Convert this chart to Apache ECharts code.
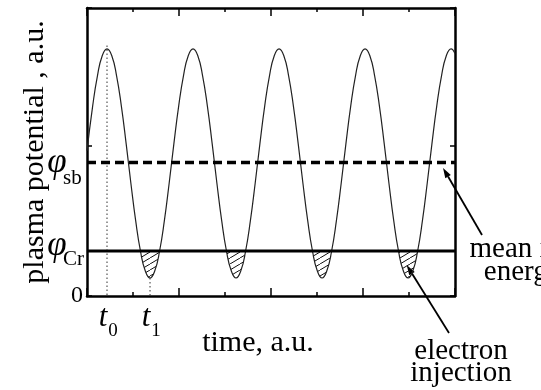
<!DOCTYPE html>
<html>
<head>
<meta charset="utf-8">
<script src="https://cdn.jsdelivr.net/npm/echarts@6/dist/echarts.min.js"></script>
<style>
  html, body { margin: 0; padding: 0; background: #fff; }
  #chart { width: 541px; height: 390px; }
</style>
</head>
<body>
<div id="chart"></div>
<script>
// Oscillating plasma potential over time (arbitrary units)
const times = [0, 0.123, 0.227, 0.331,
  0.435, 0.539, 0.643, 0.747, 0.851, 0.954, 1.058, 1.162, 1.266, 1.370, 1.474, 1.578, 1.682, 1.786, 1.889, 1.993, 2.097, 2.201,
  2.305, 2.409, 2.513, 2.617, 2.721, 2.824, 2.928, 3.032, 3.136, 3.240, 3.344, 3.448, 3.552, 3.656, 3.759, 3.863, 3.967, 4.071,
  4.175, 4.279, 4.383, 4.487, 4.591, 4.694, 4.798, 4.902, 5.006, 5.110, 5.214, 5.318, 5.422, 5.526, 5.629, 5.733, 5.837, 5.941,
  6.045, 6.149, 6.253, 6.357, 6.461, 6.564, 6.668, 6.772, 6.876, 6.980, 7.084, 7.188, 7.292, 7.396, 7.499, 7.603, 7.707, 7.811,
  7.915, 8.0];
const potential = [4.84, 6.33, 7.34, 8.01,
  8.24, 8.01, 7.34, 6.33, 5.08, 3.76, 2.51, 1.50, 0.84, 0.60, 0.84, 1.50, 2.51, 3.76, 5.08, 6.33, 7.34, 8.01,
  8.24, 8.01, 7.34, 6.33, 5.08, 3.76, 2.51, 1.50, 0.84, 0.60, 0.84, 1.50, 2.51, 3.76, 5.08, 6.33, 7.34, 8.01,
  8.24, 8.01, 7.34, 6.33, 5.08, 3.76, 2.51, 1.50, 0.84, 0.60, 0.84, 1.50, 2.51, 3.76, 5.08, 6.33, 7.34, 8.01,
  8.24, 8.01, 7.34, 6.33, 5.08, 3.76, 2.51, 1.50, 0.84, 0.60, 0.84, 1.50, 2.51, 3.76, 5.08, 6.33, 7.34, 8.01,
  8.24, 8.08];

// Reference levels
const phiSb = 4.45;   // mean ion energy level
const phiCr = 1.50;   // electron injection threshold

// Marked instants t0 (potential maximum) and t1 (potential minimum)
const markerTimes = [0.435, 1.370];
const markerTops = [8.35, 0.60];
const markerNames = ['0', '1'];

const xRange = [0, 8];
const yRange = [0, 9.6];

const FONT = '"Liberation Serif", "Times New Roman", serif';

// Diagonal hatch pattern for the injection regions
function hatchPattern() {
  const c = document.createElement('canvas');
  c.width = 10; c.height = 6;
  const g = c.getContext('2d');
  g.strokeStyle = '#111';
  g.lineWidth = 1;
  g.beginPath();
  g.moveTo(-1, 6.6);
  g.lineTo(11, -0.6);
  g.stroke();
  return c;
}

const curveData = times.map((t, i) => [t, potential[i]]);
const hatchData = times.map((t, i) => [t, potential[i] <= phiCr ? potential[i] : '-']);

const chart = echarts.init(document.getElementById('chart'), null, { renderer: 'canvas' });

const axisLine = { show: true, onZero: false, lineStyle: { color: '#000', width: 2.5 } };

const xAxisBase = {
  type: 'value', min: xRange[0], max: xRange[1], interval: 2,
  axisLine: axisLine,
  axisTick: { show: true, inside: true, length: 8, lineStyle: { color: '#000', width: 1.5 } },
  minorTick: { show: true, splitNumber: 2, length: 4, lineStyle: { color: '#000', width: 1.5 } },
  axisLabel: { show: false },
  splitLine: { show: false },
  minorSplitLine: { show: false }
};
const yAxisBase = {
  type: 'value', min: yRange[0], max: yRange[1], interval: 5,
  axisLine: axisLine,
  axisTick: { show: true, inside: true, length: 5, lineStyle: { color: '#000', width: 1.5 } },
  splitLine: { show: false }
};

chart.setOption({
  animation: false,
  backgroundColor: '#fff',
  grid: { left: 87, right: 86, top: 8, bottom: 94, containLabel: false },
  xAxis: [
    Object.assign({}, xAxisBase, { position: 'bottom' }),
    Object.assign({}, xAxisBase, { position: 'top' })
  ],
  yAxis: [
    Object.assign({}, yAxisBase, {
      position: 'left',
      axisLabel: {
        show: true, margin: 4, color: '#000', fontFamily: FONT, fontSize: 24,
        formatter: v => (v === 0 ? '0' : '')
      }
    }),
    Object.assign({}, yAxisBase, { position: 'right', axisLabel: { show: false } })
  ],
  series: [
    {
      name: 'injection', type: 'line', data: hatchData, smooth: true,
      showSymbol: false, silent: true, z: 1,
      lineStyle: { width: 0 },
      areaStyle: { origin: phiCr, color: { image: hatchPattern(), repeat: 'repeat' }, opacity: 1 }
    },
    {
      name: 'potential', type: 'line', data: curveData, smooth: true,
      showSymbol: false, z: 3,
      lineStyle: { color: '#222', width: 1.2 }
    },
    {
      name: 'phiSb', type: 'line', data: [[xRange[0], phiSb], [xRange[1], phiSb]],
      showSymbol: false, z: 4,
      lineStyle: { color: '#000', width: 3.5, type: [9, 5] }
    },
    {
      name: 'phiCr', type: 'line', data: [[xRange[0], phiCr], [xRange[1], phiCr]],
      showSymbol: false, z: 4,
      lineStyle: { color: '#000', width: 3 }
    }
  ].concat(markerTimes.map((t, i) => ({
    name: 't' + markerNames[i], type: 'line', data: [[t, markerTops[i]], [t, 0]],
    showSymbol: false, z: 2,
    lineStyle: { color: '#333', width: 1, type: [1.5, 2.5] }
  })))
});

// Text and arrows placed relative to the plot scale
const px = (x, y) => chart.convertToPixel({ gridIndex: 0 }, [x, y]);

function arrow(tail, tip) {
  const dx = tip[0] - tail[0], dy = tip[1] - tail[1];
  const len = Math.sqrt(dx * dx + dy * dy);
  const ux = dx / len, uy = dy / len;
  const L = 10, W = 3.2;
  const bx = tip[0] - ux * L, by = tip[1] - uy * L;
  return [
    { type: 'line', shape: { x1: tail[0], y1: tail[1], x2: bx, y2: by },
      style: { stroke: '#000', lineWidth: 1.8 } },
    { type: 'polygon', shape: { points: [tip, [bx - uy * W, by + ux * W], [bx + uy * W, by - ux * W]] },
      style: { fill: '#000' } }
  ];
}

const levelLabels = [
  { value: phiSb, sub: 'sb', phiDy: 0, subDy: 16 },
  { value: phiCr, sub: 'Cr', phiDy: -5, subDy: 8 }
];

const graphics = [
  { type: 'text', x: 35, y: 152, rotation: Math.PI / 2,
    style: { text: 'plasma potential , a.u.', font: '30px ' + FONT, fill: '#000', align: 'center', verticalAlign: 'middle' } },
  { type: 'text', x: 258, y: 343,
    style: { text: 'time, a.u.', font: '30px ' + FONT, fill: '#000', align: 'center', verticalAlign: 'middle' } },
  { type: 'text', x: 523, y: 261,
    style: { text: 'mean ion\nenergy', font: '29px ' + FONT, lineHeight: 23, fill: '#000', align: 'center', verticalAlign: 'middle' } },
  { type: 'text', x: 461, y: 362,
    style: { text: 'electron\ninjection', font: '29px ' + FONT, lineHeight: 22, fill: '#000', align: 'center', verticalAlign: 'middle' } }
];

levelLabels.forEach(l => {
  const y = px(0, l.value)[1];
  graphics.push(
    { type: 'text', x: 57, y: y + l.phiDy,
      style: { text: 'φ', font: 'italic 35px ' + FONT, fill: '#000', align: 'center', verticalAlign: 'middle' } },
    { type: 'text', x: 63, y: y + l.subDy,
      style: { text: l.sub, font: '21px ' + FONT, fill: '#000', align: 'left', verticalAlign: 'middle' } }
  );
});

markerTimes.forEach((t, i) => {
  const x = px(t, 0)[0];
  graphics.push(
    { type: 'text', x: x - 4, y: 318,
      style: { text: 't', font: 'italic 31px ' + FONT, fill: '#000', align: 'center', verticalAlign: 'middle' } },
    { type: 'text', x: x + 6, y: 331,
      style: { text: markerNames[i], font: '19px ' + FONT, fill: '#000', align: 'center', verticalAlign: 'middle' } }
  );
});

graphics.push(...arrow([482, 235], px(7.74, 4.27)));
graphics.push(...arrow([449, 333], px(6.95, 1.03)));

chart.setOption({ graphic: graphics });
</script>
</body>
</html>
